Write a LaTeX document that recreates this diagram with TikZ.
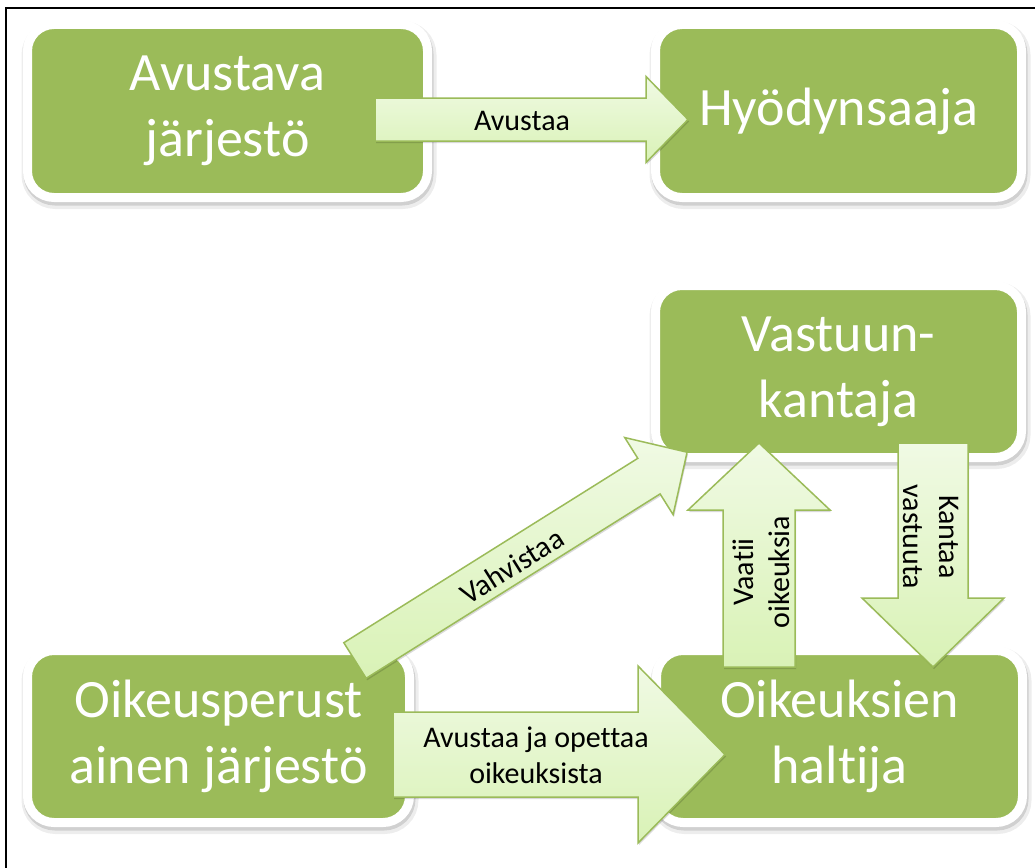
\documentclass[tikz,border=0pt]{standalone}
\usepackage{fontspec}
\setmainfont{Carlito}[Ligatures=NoCommon]
\usetikzlibrary{shadows}
\definecolor{boxgreen}{HTML}{9BBB59}
\definecolor{arrowlight}{HTML}{F0FAE4}
\definecolor{arrowdark}{HTML}{D9F2B6}
\definecolor{arrowedge}{HTML}{9BBB59}
\tikzset{
  box/.style={rounded corners=26.5pt, fill=boxgreen, draw=white, line width=9pt,
    text=white, align=center, font=\fontsize{54}{66}\selectfont, inner sep=0pt,
    preaction={draw=black, draw opacity=0.07, line width=15pt, transform canvas={xshift=1.5pt,yshift=-4pt}},
    preaction={draw=black, draw opacity=0.12, line width=10pt, transform canvas={xshift=1pt,yshift=-3pt}}},
  arrowbody/.style={draw=arrowedge, line width=1.5pt, line join=miter,
    top color=arrowlight, bottom color=arrowdark,
    drop shadow={shadow xshift=1pt, shadow yshift=-2pt, opacity=0.15, fill=black}},
  arrowlabel/.style={text=black, align=center, font=\fontsize{30}{36}\selectfont, inner sep=0pt},
  frameline/.style={draw=black, line width=2.5pt}
}
% #1 tail coordinate, #2 angle, #3 length, #4 shaft width, #5 head width, #6 head length
\newcommand{\blockarrow}[6]{%
  \begin{scope}[shift={(#1)}, rotate=#2]
    \path[arrowbody] (0,-#4/2) -- ({#3-#6},-#4/2) -- ({#3-#6},-#5/2) -- (#3,0)
      -- ({#3-#6},#5/2) -- ({#3-#6},#4/2) -- (0,#4/2) -- cycle;
  \end{scope}}
\begin{document}
\begin{tikzpicture}[x=1pt,y=-1pt]
\useasboundingbox (0,0) rectangle (1035,867);
\fill[white] (0,0) rectangle (1035,867);
\coordinate (fbl) at (6,880);
\coordinate (ftl) at (6,8);
\coordinate (ftr) at (1045,8);
\draw[frameline] (fbl) -- (ftl) -- (ftr);

% boxes
\node[box, minimum width=400pt, minimum height=173pt] (avu) at (227.5,111) {Avustava\\järjestö};
\node[box, minimum width=366pt, minimum height=173pt] (hyo) at (838.5,111) {Hyödynsaaja};
\node[box, minimum width=366pt, minimum height=172pt] (vas) at (838.5,371.5) {Vastuun-\\kantaja};
\node[box, minimum width=382pt, minimum height=172pt] (oik) at (218.5,736.5) {Oikeusperust\\ainen järjestö};
\node[box, minimum width=366pt, minimum height=172pt] (hal) at (839.5,736.5) {Oikeuksien\\haltija};

% arrow tails
\coordinate (t1) at (375,119.5);
\coordinate (t2) at (355,660.5);
\coordinate (t3) at (759,667);
\coordinate (t4) at (933,443);
\coordinate (t5) at (393,754.5);

\blockarrow{t1}{0}{313}{43}{86}{42}
\blockarrow{t2}{32.1}{392}{42}{91}{45}
\blockarrow{t3}{90}{224}{72}{142}{67}
\blockarrow{t4}{-90}{224}{70}{142}{69}
\blockarrow{t5}{0}{332}{85}{177}{87}

% labels
\node[arrowlabel] (l1) at (522,121) {Avustaa};
\node[arrowlabel, rotate=32.1] (l2) at (512,566) {Vahvistaa};
\node[arrowlabel, rotate=90] (l3) at (761,572) {Vaatii\\oikeuksia};
\node[arrowlabel, rotate=-90] (l4) at (931,537) {Kantaa\\vastuuta};
\node[arrowlabel] (l5) at (536,755) {Avustaa ja opettaa\\oikeuksista};
\end{tikzpicture}
\end{document}
